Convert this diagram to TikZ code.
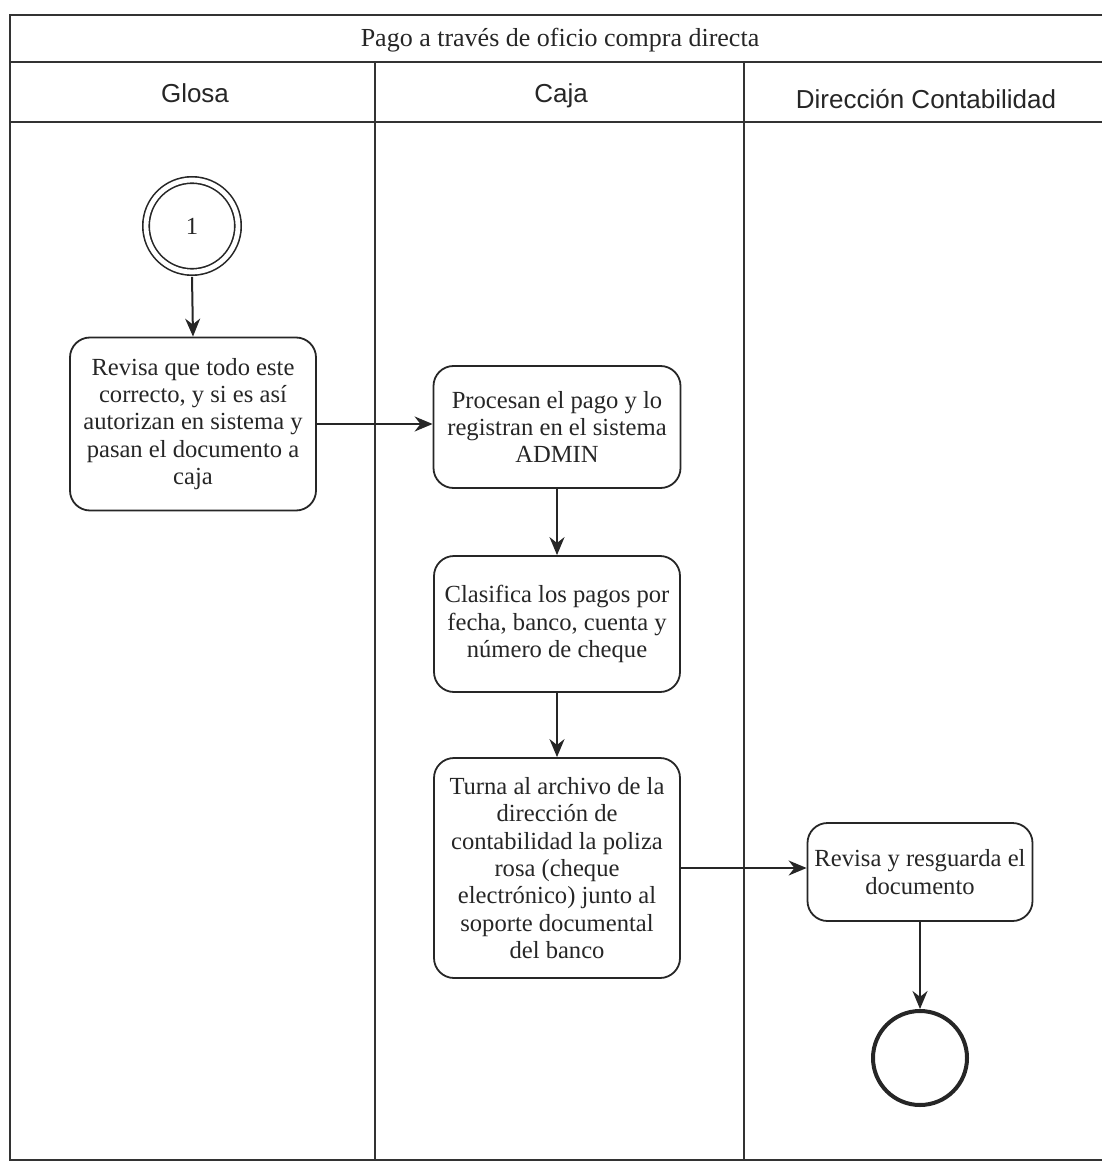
\documentclass[tikz,border=0pt]{standalone}
\usepackage{fontspec}
\setmainfont{Liberation Serif}
\setsansfont{Liberation Sans}
\usetikzlibrary{arrows.meta}

\begin{document}
\begin{tikzpicture}[x=0.5pt,y=-0.5pt,
	every node/.style={font=\fontsize{12.3}{13.7}\selectfont, text=black!85},
	paso/.style={draw=black!85, rounded corners=10pt, line width=0.9pt, align=center, inner sep=2pt},
	inicio/.style={circle, draw=black!85, double, double distance=2.4pt, line width=0.8pt, minimum size=46pt, outer sep=2.4pt},
	fin/.style={circle, draw=black!85, line width=2pt, minimum size=47pt},
	flecha/.style={-{Stealth[length=9pt,width=7.5pt]}, line width=1pt, draw=black!85},
	marco/.style={line width=1pt, draw=black!80},
	carril/.style={font=\sffamily\fontsize{13}{15}\selectfont}]
	%% some definitions
	\def\colA{375} % first lane border
	\def\colB{744} % second lane border
	\def\yTit{62}
	\def\yHead{122}
	\def\yBot{1160}

	\useasboundingbox (0,0) rectangle (1102,1165);

	% frame and lanes
	\draw[marco] (1102,15) -- (10,15) -- (10,\yBot) -- (1102,\yBot);
	\draw[marco] (10,\yTit) -- (1102,\yTit);
	\draw[marco] (10,\yHead) -- (1102,\yHead);
	\draw[marco] (\colA,\yTit) -- (\colA,\yBot);
	\draw[marco] (\colB,\yTit) -- (\colB,\yBot);

	\node[font=\fontsize{13}{15}\selectfont] (titulo) at (560,40) {Pago a través de oficio compra directa};
	\node[carril] (glosa) at (195,93) {Glosa};
	\node[carril] (caja) at (561,96) {Caja};
	\node[carril] (direccion) at (926,99) {Dirección Contabilidad};

	% steps
	\node[inicio] (uno) at (192,226) {1};
	\node[paso, minimum width=123pt, minimum height=86.5pt] (revisa) at (193,424)
		{Revisa que todo este\\correcto, y si es así\\autorizan en sistema y\\pasan el documento a\\caja};
	\node[paso, minimum width=123.5pt, minimum height=61pt] (procesan) at (557,427)
		{Procesan el pago y lo\\registran en el sistema\\ADMIN};
	\node[paso, minimum width=123pt, minimum height=68pt] (clasifica) at (557,624)
		{Clasifica los pagos por\\fecha, banco, cuenta y\\número de cheque};
	\node[paso, minimum width=123pt, minimum height=110pt] (turna) at (557,868)
		{Turna al archivo de la\\dirección de\\contabilidad la poliza\\rosa (cheque\\electrónico) junto al\\soporte documental\\del banco};
	\node[paso, minimum width=112.5pt, minimum height=49pt] (resguarda) at (920,872)
		{Revisa y resguarda el\\documento};
	\node[fin] (final) at (920,1058) {};

	% connectors
	\draw[flecha] (uno.south) -- (revisa.north);
	\draw[flecha] (revisa.east) -- (revisa.east -| procesan.west);
	\draw[flecha] (procesan.south) -- (clasifica.north);
	\draw[flecha] (clasifica.south) -- (turna.north);
	\draw[flecha] (turna.east) -- (turna.east -| resguarda.west);
	\draw[flecha] (resguarda.south) -- (final.north);

\end{tikzpicture}
\end{document}
